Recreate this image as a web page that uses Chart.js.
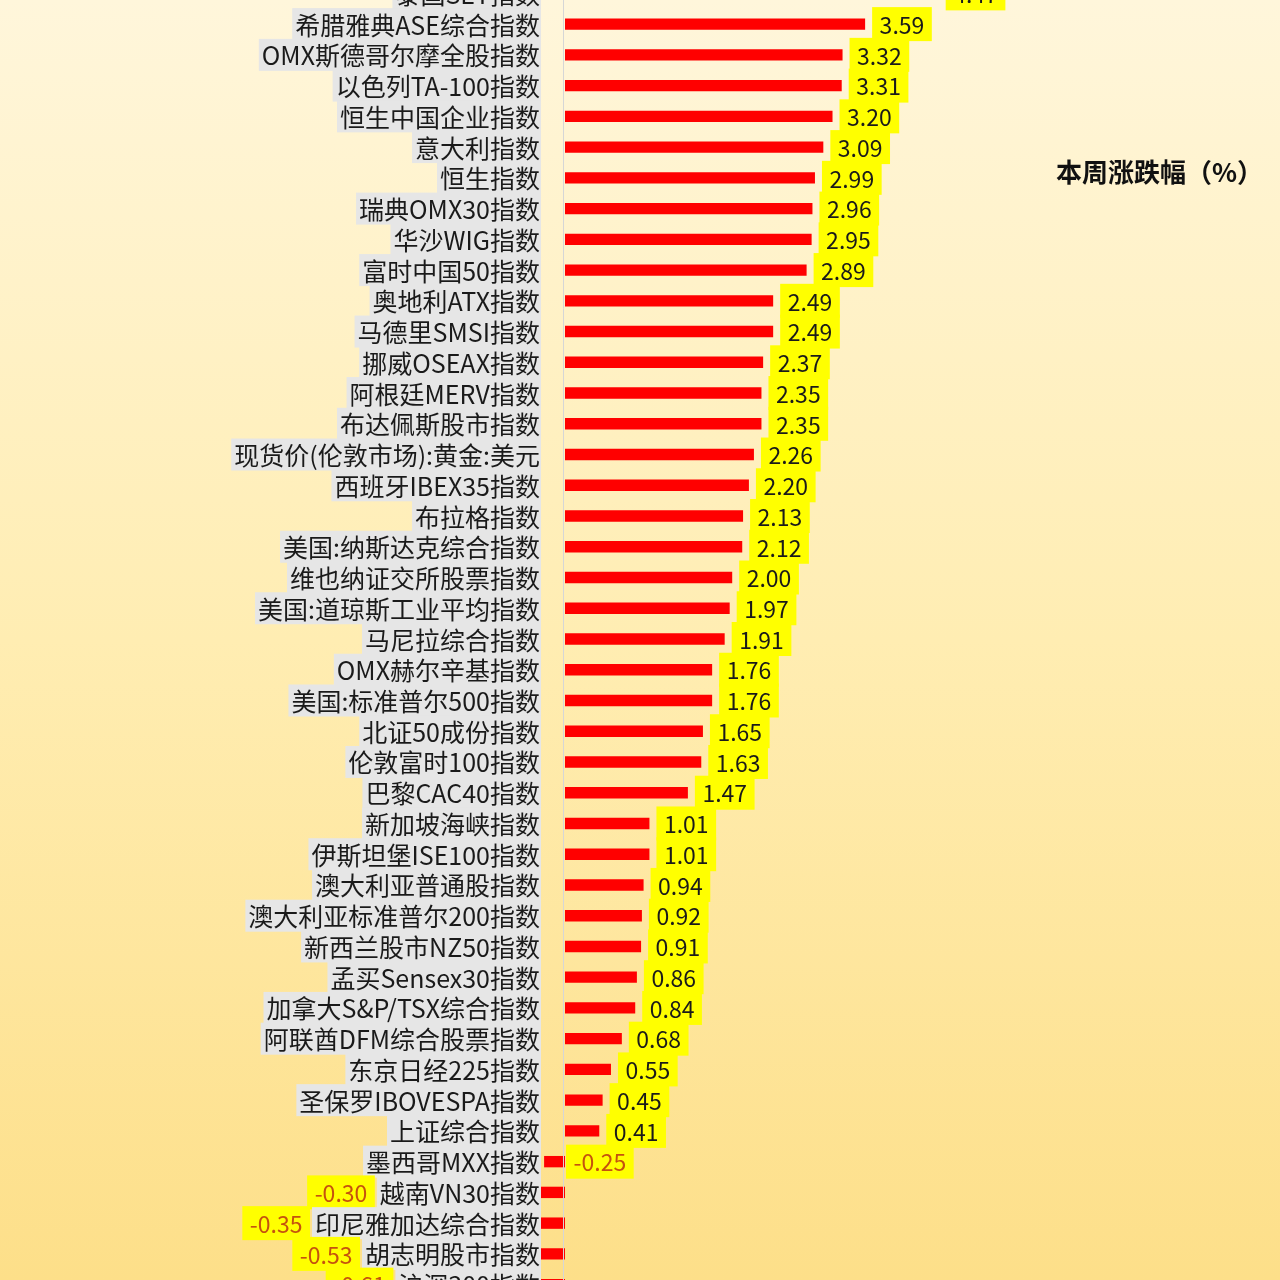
<!DOCTYPE html>
<html>
<head>
<meta charset="utf-8">
<script src="https://cdn.jsdelivr.net/npm/chart.js@4"></script>
<style>
  html, body { margin: 0; padding: 0; }
  body {
    width: 1280px; height: 1280px; overflow: hidden; position: relative;
    background: linear-gradient(to bottom, #FFF6DB 0%, #FFEDB2 50%, #FDDF89 100%);
  }
  #wrap { position: absolute; left: 0; top: -22px; width: 1280px; height: 1322px; }
  #legend {
    position: absolute; left: 1056px; top: 152px;
    font: bold 26px "Noto Sans CJK SC", sans-serif; color: #111;
  }
</style>
</head>
<body>
<div id="wrap"><canvas id="weekChart" width="1280" height="1322"></canvas></div>
<div id="legend">本周涨跌幅（%）</div>
<script>
// weekly change (%) by index, top to bottom as in the picture
const categories = [
  '泰国SET指数', '希腊雅典ASE综合指数', 'OMX斯德哥尔摩全股指数', '以色列TA-100指数',
  '恒生中国企业指数', '意大利指数', '恒生指数', '瑞典OMX30指数', '华沙WIG指数',
  '富时中国50指数', '奥地利ATX指数', '马德里SMSI指数', '挪威OSEAX指数', '阿根廷MERV指数',
  '布达佩斯股市指数', '现货价(伦敦市场):黄金:美元', '西班牙IBEX35指数', '布拉格指数',
  '美国:纳斯达克综合指数', '维也纳证交所股票指数', '美国:道琼斯工业平均指数', '马尼拉综合指数',
  'OMX赫尔辛基指数', '美国:标准普尔500指数', '北证50成份指数', '伦敦富时100指数',
  '巴黎CAC40指数', '新加坡海峡指数', '伊斯坦堡ISE100指数', '澳大利亚普通股指数',
  '澳大利亚标准普尔200指数', '新西兰股市NZ50指数', '孟买Sensex30指数', '加拿大S&P/TSX综合指数',
  '阿联酋DFM综合股票指数', '东京日经225指数', '圣保罗IBOVESPA指数', '上证综合指数',
  '墨西哥MXX指数', '越南VN30指数', '印尼雅加达综合指数', '胡志明股市指数', '沪深300指数'
];
const weekChange = [
  4.47, 3.59, 3.32, 3.31, 3.20, 3.09, 2.99, 2.96, 2.95, 2.89, 2.49, 2.49, 2.37, 2.35,
  2.35, 2.26, 2.20, 2.13, 2.12, 2.00, 1.97, 1.91, 1.76, 1.76, 1.65, 1.63, 1.47, 1.01,
  1.01, 0.94, 0.92, 0.91, 0.86, 0.84, 0.68, 0.55, 0.45, 0.41, -0.25, -0.30, -0.35, -0.53, -0.61
];
const seriesName = '本周涨跌幅（%）';

const CJK = '"Noto Sans CJK SC", sans-serif';

// axis line at zero + grey category boxes + yellow value boxes, drawn over the bars
const labelPlugin = {
  id: 'labels',
  afterDatasetsDraw(chart) {
    const { ctx, chartArea, scales } = chart;
    const x0 = scales.x.getPixelForValue(0);
    const meta = chart.getDatasetMeta(0);
    ctx.save();
    ctx.strokeStyle = '#D6D6D6';
    ctx.lineWidth = 1;
    ctx.beginPath();
    ctx.moveTo(x0 - 1.5, chartArea.top);
    ctx.lineTo(x0 - 1.5, chartArea.bottom);
    ctx.stroke();

    ctx.textBaseline = 'middle';
    meta.data.forEach((bar, i) => {
      const y = bar.y;
      const v = weekChange[i];

      // category label
      ctx.font = '25px ' + CJK;
      const catRight = x0 - 25;
      const cw = ctx.measureText(categories[i]).width;
      const catLeft = catRight - cw - 3;
      ctx.fillStyle = '#E6E6E6';
      ctx.fillRect(catLeft, y - 16, cw + 4, 32);
      ctx.fillStyle = '#1A1A1A';
      ctx.textAlign = 'right';
      ctx.fillText(categories[i], catRight, y + 1);

      // value label
      ctx.font = '23px ' + CJK;
      const txt = v.toFixed(2);
      const tw = ctx.measureText(txt).width;
      const bw = tw + 15;
      let bx;
      if (v >= 0) bx = bar.x + 7;
      else if (weekChange[i - 1] >= 0) bx = x0 + 1;
      else bx = catLeft - bw - 2;
      ctx.fillStyle = '#FFFF00';
      ctx.fillRect(bx, y - 17, bw, 34);
      ctx.fillStyle = v >= 0 ? '#1A1A1A' : '#C5520E';
      ctx.textAlign = 'center';
      ctx.fillText(txt, bx + bw / 2, y + 1);
    });
    ctx.restore();
  }
};

new Chart(document.getElementById('weekChart'), {
  type: 'bar',
  data: {
    labels: categories,
    datasets: [{
      label: seriesName,
      data: weekChange,
      backgroundColor: '#FF0000',
      borderWidth: 0,
      barPercentage: 0.37,
      categoryPercentage: 1
    }]
  },
  options: {
    indexAxis: 'y',
    responsive: false,
    animation: false,
    layout: { padding: 0 },
    plugins: { legend: { display: false }, tooltip: { enabled: false } },
    scales: {
      x: { display: false, min: -565 / 83.6, max: 715 / 83.6 },
      y: { display: false }
    }
  },
  plugins: [labelPlugin]
});
</script>
</body>
</html>
